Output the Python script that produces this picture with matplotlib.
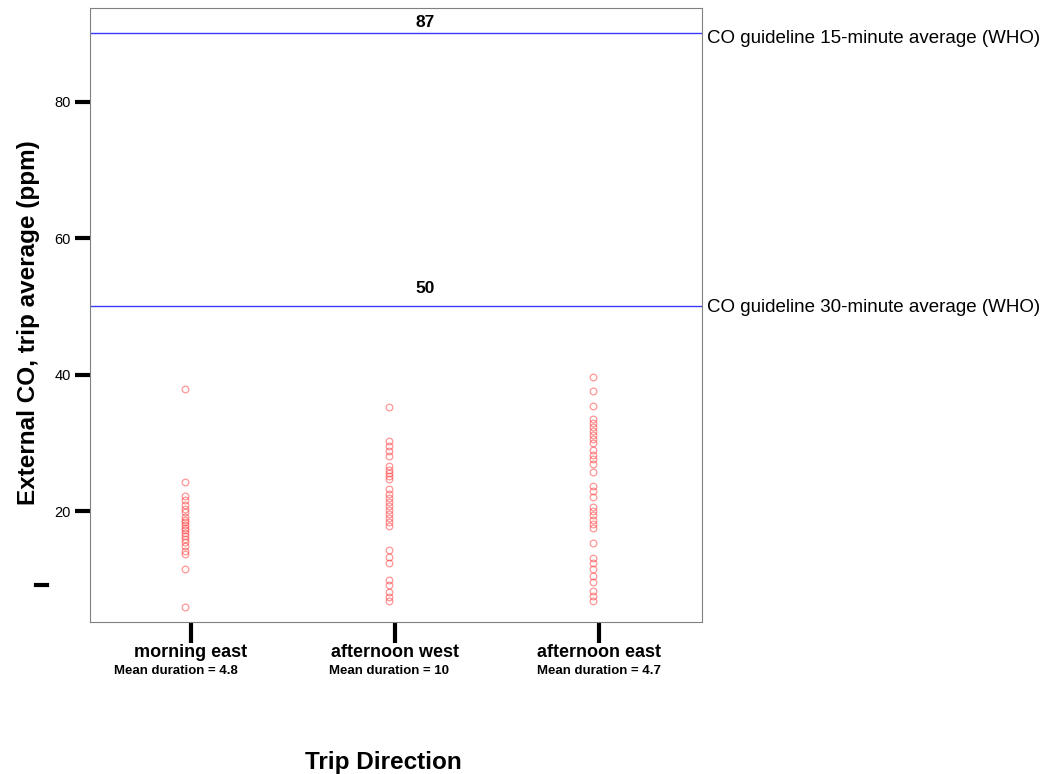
import matplotlib
matplotlib.use("Agg")
import matplotlib.pyplot as plt
from matplotlib.lines import Line2D

plt.rcParams['font.family'] = ['Liberation Sans', 'DejaVu Sans']

# trip directions and the external CO trip averages (ppm) for each
directions = ["morning east", "afternoon west", "afternoon east"]
durations = ["Mean duration = 4.8", "Mean duration = 10", "Mean duration = 4.7"]

morning_east = [37.9, 24.3, 22.2, 21.6, 21.0, 20.4, 19.9, 19.2, 18.8, 18.4, 18.0,
                17.6, 17.2, 16.8, 16.4, 16.0, 15.5, 14.9, 14.2, 13.7, 11.5, 6.0]
afternoon_west = [35.3, 30.3, 29.6, 28.9, 28.1, 26.6, 26.0, 25.6, 25.2, 24.7,
                  23.2, 22.6, 22.0, 21.4, 20.8, 20.2, 19.6, 19.0, 18.4, 17.8,
                  14.4, 13.3, 12.5, 10.0, 9.2, 8.2, 7.4, 6.8]
afternoon_east = [39.6, 37.6, 35.4, 33.5, 33.0, 32.4, 31.8, 31.2, 30.6, 30.0,
                  29.0, 28.2, 27.6, 26.9, 25.7, 23.7, 23.0, 22.1, 20.6, 20.0,
                  19.4, 18.8, 18.2, 17.6, 15.4, 13.2, 12.4, 11.6, 10.6, 9.6,
                  8.4, 7.6, 6.8]
series = [morning_east, afternoon_west, afternoon_east]

# WHO guideline lines: drawn level, printed label, description
guide_levels = [90, 50]
guide_values = ["87", "50"]
guide_names = ["CO guideline 15-minute average (WHO)",
               "CO guideline 30-minute average (WHO)"]

fig = plt.figure(figsize=(10.47, 7.74), dpi=100)
ax = fig.add_axes([0.086, 0.1964, 0.5845, 0.7933])

for i, vals in enumerate(series):
    ax.plot([i + 0.97] * len(vals), vals, linestyle="none", marker="o",
            markersize=4.8, markerfacecolor="none", markeredgecolor="#ff3030",
            markeredgewidth=0.9, alpha=0.5)

value_offsets = [11, 18]   # px above the line
name_offsets = [-5, -1]    # px, description label vs line
for level, val, name, off, noff in zip(guide_levels, guide_values, guide_names,
                                       value_offsets, name_offsets):
    ax.axhline(level, color="#3a3aff", lw=1)
    ax.annotate(val, xy=(2.15, level), xytext=(0, off * 0.72),
                textcoords="offset points", ha="center", va="center",
                fontsize=12.5, fontweight="bold")
    ax.annotate(name, xy=(1.008, level), xycoords=ax.get_yaxis_transform(),
                xytext=(0, noff * 0.72), textcoords="offset points",
                ha="left", va="center", fontsize=13.5, annotation_clip=False)

ax.set_xlim(0.506, 3.505)
ax.set_ylim(3.8, 93.7)
ax.set_yticks([20, 40, 60, 80])
ax.tick_params(axis="y", length=11, width=3, labelsize=10.5, pad=3)
ax.set_xticks([1, 2, 3])
ax.set_xticklabels(directions, fontsize=13, fontweight="bold")
ax.tick_params(axis="x", length=15, width=3, pad=1)
for sp in ax.spines.values():
    sp.set_color("#808080")

dur_shift = [-11, -4, 0]
for i, d in enumerate(durations):
    ax.annotate(d, xy=(i + 1, 0), xycoords=("data", "axes fraction"),
                xytext=(dur_shift[i], -35), textcoords="offset points",
                ha="center", va="center", fontsize=9.5, fontweight="bold")

ax.set_ylabel("External CO, trip average (ppm)", fontsize=17.5,
              fontweight="bold", labelpad=10)
ax.yaxis.label.set_y(0.487)
fig.text(0.366, 1 - 762 / 774, "Trip Direction", ha="center", va="center",
         fontsize=17.5, fontweight="bold")

# stray tick mark left of the axis
fig.add_artist(Line2D([36 / 1047, 47 / 1047], [1 - 585 / 774] * 2,
                      lw=3, color="black"))

fig.savefig("out.png", dpi=100)
